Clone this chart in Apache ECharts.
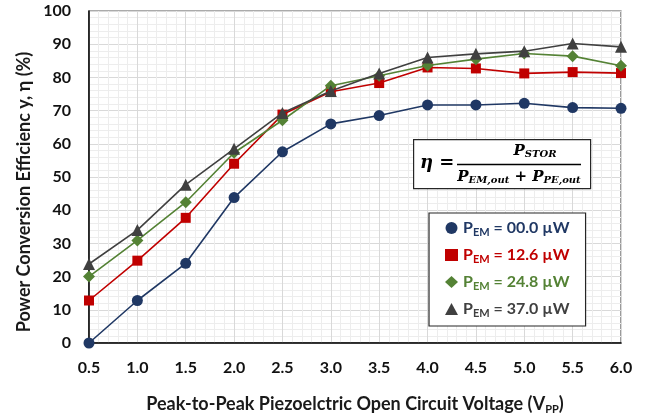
<!DOCTYPE html>
<html>
<head>
<meta charset="utf-8">
<script src="https://cdn.jsdelivr.net/npm/echarts@6/dist/echarts.min.js"></script>
<style>
  html, body { margin: 0; padding: 0; background: #fff; }
  #chart { width: 657px; height: 420px; }
</style>
</head>
<body>
<div id="chart"></div>
<script>
// Peak-to-peak piezoelectric open-circuit voltage (V)
const voltages = [0.5, 1.0, 1.5, 2.0, 2.5, 3.0, 3.5, 4.0, 4.5, 5.0, 5.5, 6.0];

// Power conversion efficiency (%) for each electromagnetic input power
const eff00 = [0, 12.8, 24, 43.8, 57.6, 66, 68.5, 71.7, 71.7, 72.2, 70.9, 70.7];
const eff126 = [12.8, 24.8, 37.7, 54, 68.8, 75.7, 78.3, 83, 82.7, 81.2, 81.6, 81.3];
const eff248 = [20, 30.9, 42.4, 57.3, 67.1, 77.5, 80.5, 83.6, 85.5, 87.2, 86.4, 83.5];
const eff370 = [23.8, 34, 47.7, 58.5, 69.3, 75.9, 81.2, 86, 87.1, 87.9, 90.2, 89.2];

// Legend power levels (µW)
const powerLabels = ['00.0', '12.6', '24.8', '37.0'];
const seriesColors = ['#203864', '#C00000', '#548235', '#404040'];
const seriesSymbols = ['circle', 'rect', 'diamond', 'triangle'];
const seriesValues = [eff00, eff126, eff248, eff370];

const yTitle = 'Power Conversion Efficienc y, η (%)';

const font = 'Lato, "Open Sans", sans-serif';
const mathFont = '"DejaVu Serif", "Liberation Serif", serif';

const chart = echarts.init(document.getElementById('chart'));

const names = powerLabels.map(p => 'PEM = ' + p);
const symbolSizes = [11, 10, 12, 12];

const series = seriesValues.map((vals, i) => ({
  name: names[i],
  type: 'line',
  data: voltages.map((v, k) => [v, vals[k]]),
  symbol: seriesSymbols[i],
  symbolSize: symbolSizes[i],
  showAllSymbol: true,
  lineStyle: { color: seriesColors[i], width: 1.6 },
  itemStyle: { color: seriesColors[i] },
  z: 3 + i
}));

// rich styles for legend text, one colour per entry
const legendRich = {};
seriesColors.forEach((c, i) => {
  legendRich['m' + i] = { color: c, fontSize: 16, fontWeight: 'bold', fontFamily: font };
  legendRich['s' + i] = { color: c, fontSize: 11, fontWeight: 'bold', fontFamily: font, padding: [9, 0, 0, 0] };
});

const titleColor = '#1a1a1a';

chart.setOption({
  animation: false,
  backgroundColor: '#ffffff',
  grid: { left: 89, top: 11, right: 36, bottom: 76, show: true, borderColor: '#595959', borderWidth: 1.2 },
  xAxis: {
    type: 'value',
    min: 0.5, max: 6.0, interval: 0.5,
    name: 'Peak-to-Peak Piezoelctric Open Circuit Voltage (V{sub|PP})',
    nameLocation: 'middle',
    nameGap: 51,
    nameTextStyle: {
      fontFamily: font, fontSize: 18, fontWeight: 'bold', color: titleColor,
      rich: { sub: { fontFamily: font, fontSize: 11, fontWeight: 'bold', color: titleColor, padding: [10, 0, 0, 0] } }
    },
    axisLine: { show: true, onZero: false, lineStyle: { color: '#000', width: 1.5 } },
    axisTick: { show: false },
    axisLabel: {
      margin: 17, fontFamily: font, fontSize: 16, fontWeight: 'bold', color: '#111',
      formatter: v => v.toFixed(1)
    },
    splitLine: { show: true, lineStyle: { color: '#d9d9d9', width: 1 } },
    minorTick: { show: false, splitNumber: 5 },
    minorSplitLine: { show: true, lineStyle: { color: '#ededed', width: 1 } }
  },
  yAxis: {
    type: 'value',
    min: 0, max: 100, interval: 10,
    axisLine: { show: true, onZero: false, lineStyle: { color: '#000', width: 1.5 } },
    axisTick: { show: false },
    axisLabel: { margin: 18, fontFamily: font, fontSize: 16, fontWeight: 'bold', color: '#111' },
    splitLine: { show: true, lineStyle: { color: '#d9d9d9', width: 1 } },
    minorTick: { show: false, splitNumber: 5 },
    minorSplitLine: { show: true, lineStyle: { color: '#ededed', width: 1 } }
  },
  legend: {
    orient: 'vertical',
    left: 429, top: 213,
    padding: [7, 16, 7, 16],
    itemGap: 9,
    itemWidth: 13, itemHeight: 12,
    backgroundColor: '#ffffff',
    borderColor: '#262626', borderWidth: 1.2,
    data: names.map((n, i) => ({ name: n, icon: seriesSymbols[i] })),
    formatter: name => {
      const i = names.indexOf(name);
      return `{m${i}|P}{s${i}|EM}{m${i}| = ${powerLabels[i]} µW}`;
    },
    textStyle: { rich: legendRich, fontSize: 16, fontWeight: 'bold' },
    selectedMode: false
  },
  graphic: [
    {
      // vertical axis title
      type: 'text', x: 24, y: 192, rotation: Math.PI / 2,
      style: {
        text: yTitle, fontFamily: font, fontSize: 18, fontWeight: 'bold', fill: titleColor,
        align: 'center', verticalAlign: 'middle'
      }
    },
    {
      type: 'rect', left: 413, top: 139, z: 50,
      shape: { width: 177, height: 49 },
      style: { fill: '#ffffff', stroke: '#262626', lineWidth: 1.2 }
    },
    {
      type: 'text', z: 51, x: 420, y: 163,
      style: {
        text: 'η =', fontFamily: mathFont, fontSize: 18, fontStyle: 'italic', fontWeight: 'bold',
        fill: '#000', verticalAlign: 'middle', align: 'left'
      }
    },
    {
      type: 'line', z: 51,
      shape: { x1: 457, y1: 164.5, x2: 581, y2: 164.5 },
      style: { stroke: '#000', lineWidth: 1.6 }
    },
    {
      type: 'text', z: 51, x: 535, y: 151,
      style: {
        text: '{p|P}{s|STOR}', align: 'center', verticalAlign: 'middle',
        rich: {
          p: { fontFamily: mathFont, fontSize: 15, fontStyle: 'italic', fontWeight: 'bold', fill: '#000' },
          s: { fontFamily: mathFont, fontSize: 10, fontStyle: 'italic', fontWeight: 'bold', fill: '#000', padding: [6, 0, 0, 0] }
        }
      }
    },
    {
      type: 'text', z: 51, x: 519, y: 177,
      style: {
        text: '{p|P}{s|EM,out}{p| + P}{s|PE,out}', align: 'center', verticalAlign: 'middle',
        rich: {
          p: { fontFamily: mathFont, fontSize: 15, fontStyle: 'italic', fontWeight: 'bold', fill: '#000' },
          s: { fontFamily: mathFont, fontSize: 10, fontStyle: 'italic', fontWeight: 'bold', fill: '#000', padding: [6, 0, 0, 0] }
        }
      }
    }
  ],
  series: series
});
</script>
</body>
</html>
